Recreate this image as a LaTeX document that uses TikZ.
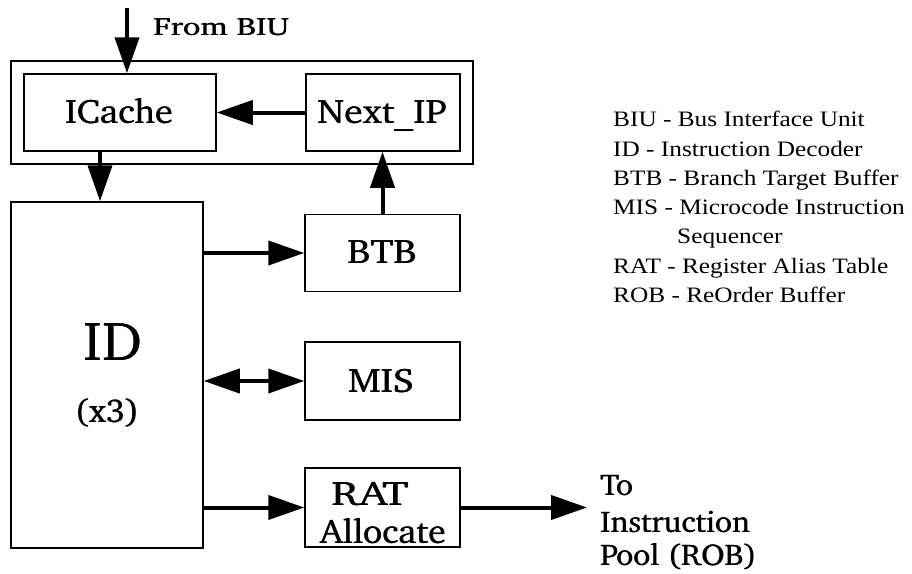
\documentclass[tikz,border=0pt]{standalone}
\usepackage[T1]{fontenc}
\usepackage{fontspec}
\usetikzlibrary{arrows.meta}
\newfontfamily\legendfont[FakeStretch=1.15]{Liberation Serif}
\newcommand\chfont{\fontencoding{T1}\fontfamily{bch}\selectfont}
\newcommand\sx[2]{\scalebox{#1}[1]{\makebox[0pt][l]{#2}\kern0.5pt\relax#2}}
\tikzset{
  box/.style={draw, line width=1.5pt, inner sep=0pt},
  txt/.style={anchor=base, inner sep=0pt, font=\chfont\fontsize{34}{40}\selectfont},
  arr/.style={line width=4pt, -{Triangle[length=36pt,width=24pt]}},
  darr/.style={line width=4pt, {Triangle[length=36pt,width=24pt]}-{Triangle[length=36pt,width=24pt]}},
  leg/.style={anchor=base west, inner sep=0pt, font=\legendfont\fontsize{22}{26}\selectfont},
  side/.style={anchor=base west, inner sep=0pt, font=\chfont\fontsize{30}{35}\selectfont},
}
\begin{document}
\begin{tikzpicture}[x=1pt,y=-1pt]
\useasboundingbox (0,0) rectangle (912,573);
% boxes
\node[box, minimum width=462pt, minimum height=103pt] (outer) at (242,112.5) {};
\node[box, minimum width=192pt, minimum height=77pt] (icache) at (120,112.5) {};
\node[box, minimum width=154pt, minimum height=77pt] (nextip) at (383,112.5) {};
\node[box, minimum width=192pt, minimum height=346pt] (id) at (107,375) {};
\node[box, minimum width=155pt, minimum height=77pt] (btb) at (382.5,253) {};
\node[box, minimum width=155pt, minimum height=78pt] (mis) at (382.5,381) {};
\node[box, minimum width=155pt, minimum height=79pt] (rat) at (382.5,507.5) {};
% box texts
\node[txt] (icachet) at (119,123) {\sx{1.07}{ICache}};
\node[txt] (nextipt) at (382,123) {\sx{1.11}{Next\_IP}};
\node[txt, font=\chfont\fontsize{55}{60}\selectfont] (idt) at (113,360) {\sx{1.05}{ID}};
\node[txt, font=\chfont\fontsize{33}{38}\selectfont] (x3t) at (107,422) {\sx{1.03}{(x3)}};
\node[txt] (btbt) at (382,263) {\sx{1.13}{BTB}};
\node[txt] (mist) at (381,392) {\sx{1.11}{MIS}};
\node[txt] (ratt) at (370,505) {\sx{1.28}{RAT}};
\node[txt] (alloct) at (383,543) {\sx{1.05}{Allocate}};
% external labels
\coordinate (biu) at (127,8);
\node[side, font=\chfont\fontsize{25}{30}\selectfont] (frombiu) at (153,35) {\sx{1.29}{From BIU}};
\coordinate (out) at (587,507.5);
\node[side] (to1) at (600,495) {\sx{1.05}{To}};
\node[side] (to2) at (600,532) {\sx{1.05}{Instruction}};
\node[side] (to3) at (600,565) {\sx{1.05}{Pool (ROB)}};
% connectors
\draw[arr] (biu) -- (biu |- icache.north);
\draw[arr] ([xshift=-20pt]icache.south) -- ([xshift=-20pt]icache.south |- id.north);
\draw[arr] (nextip.west) -- (icache.east);
\draw[arr] (btb.north) -- (btb.north |- nextip.south);
\draw[arr] (id.east |- btb.west) -- (btb.west);
\draw[darr] (id.east |- mis.west) -- (mis.west);
\draw[arr] (id.east |- rat.west) -- (rat.west);
\draw[arr] (rat.east) -- (out);
% legend
\node[leg] (l1) at (613,126.7) {BIU - Bus Interface Unit};
\node[leg] (l2) at (613,156) {ID - Instruction Decoder};
\node[leg] (l3) at (613,185) {BTB - Branch Target Buffer};
\node[leg] (l4) at (613,214) {MIS - Microcode Instruction};
\node[leg] (l5) at (677,243) {Sequencer};
\node[leg] (l6) at (613,273) {RAT - Register Alias Table};
\node[leg] (l7) at (613,302) {ROB - ReOrder Buffer};
\end{tikzpicture}
\end{document}
